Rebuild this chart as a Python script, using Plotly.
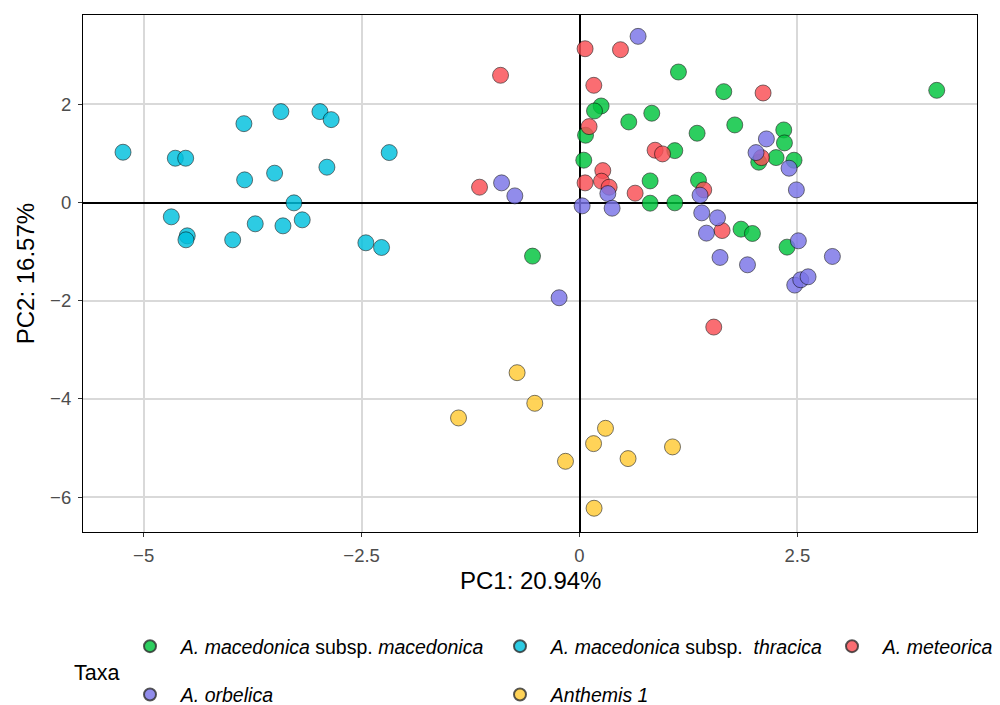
import plotly.graph_objects as go

# PCA scores per taxon (PC1, PC2)
mac_x = [1.135, 0.248, 0.172, 0.829, 0.565, 1.349, 0.069, 1.093, 0.049, 0.810,
         1.365, 0.810, 1.093, -0.539, 1.655, 4.098, 1.781, 2.343, 2.351, 2.255,
         2.056, 2.461, 1.853, 1.984, 2.381]
mac_y = [2.659, 1.967, 1.866, 1.819, 1.642, 1.412, 1.371, 1.058, 0.863, 0.441,
         0.455, -0.013, -0.006, -1.091, 2.259, 2.286, 1.581, 1.479, 1.215, 0.916,
         0.822, 0.862, -0.542, -0.630, -0.908]

thr_x = [-5.237, -4.637, -4.518, -3.850, -3.426, -2.978, -2.849, -2.183, -3.842, -3.498,
         -2.898, -3.276, -4.683, -4.500, -4.515, -3.979, -3.720, -3.402, -3.181, -2.451,
         -2.271]
thr_y = [1.025, 0.903, 0.903, 1.607, 1.852, 1.852, 1.689, 1.018, 0.462, 0.598,
         0.720, -0.006, -0.291, -0.678, -0.759, -0.759, -0.433, -0.474, -0.352, -0.820,
         -0.915]

met_x = [0.064, 0.470, -0.906, 0.164, 0.110, 0.867, 0.952, 0.267, 0.252, 0.064,
         0.340, 0.638, -1.147, 2.106, 2.087, 1.425, 1.636, 1.540]
met_y = [3.133, 3.113, 2.592, 2.388, 1.547, 1.066, 0.991, 0.651, 0.435, 0.401,
         0.313, 0.191, 0.313, 2.232, 0.916, 0.258, -0.570, -2.536]

orb_x = [0.672, -0.894, -0.742, 0.325, 0.030, 0.374, 1.383, 1.402, 1.456, 2.144,
         2.025, 2.404, 2.488, 1.583, 1.612, 1.927, 2.511, 2.901, -0.234, 2.469,
         2.538, 2.622]
orb_y = [3.385, 0.401, 0.136, 0.183, -0.067, -0.115, 0.150, -0.210, -0.623, 1.296,
         1.018, 0.699, 0.258, -0.311, -1.118, -1.268, -0.779, -1.098, -1.939, -1.681,
         -1.573, -1.512]

ant_x = [-0.716, -0.513, -1.388, 0.298, 0.161, 1.067, -0.161, 0.557, 0.167]
ant_y = [-3.465, -4.089, -4.387, -4.598, -4.910, -4.977, -5.270, -5.215, -6.226]

x_ticks = [-5, -2.5, 0, 2.5]
x_tick_text = ["\u22125", "\u22122.5", "0", "2.5"]
y_ticks = [-6, -4, -2, 0, 2]
y_tick_text = ["\u22126", "\u22124", "\u22122", "0", "2"]

FONT = "Liberation Sans, Arial"
PAD = "\u00a0\u00a0"  # extra gap between legend symbol and label

series = [
    ("<i>A. macedonica</i> subsp. <i>macedonica</i>", mac_x, mac_y, "rgb(0,196,61)", "legend"),
    ("<i>A. macedonica</i> subsp.  <i>thracica</i>", thr_x, thr_y, "rgb(0,192,222)", "legend2"),
    ("<i>A. meteorica</i>", met_x, met_y, "rgb(249,78,84)", "legend3"),
    ("<i>A. orbelica</i>", orb_x, orb_y, "rgb(122,116,231)", "legend"),
    ("<i>Anthemis 1</i>", ant_x, ant_y, "rgb(255,202,52)", "legend2"),
]

fig = go.Figure()
for i, (name, xs, ys, col, leg) in enumerate(series):
    fig.add_trace(go.Scatter(
        x=xs, y=ys, mode="markers", name=PAD + name, legend=leg,
        legendgroup=f"g{i}",
        marker=dict(size=16, color=col, opacity=0.82,
                    line=dict(color="rgba(0,0,0,0.8)", width=0.8)),
    ))

axis_common = dict(
    showgrid=True, gridcolor="#d9d9d9", gridwidth=1.6,
    zeroline=True, zerolinecolor="black", zerolinewidth=1.6,
    showline=True, linecolor="black", linewidth=1.2, mirror=True,
    ticks="outside", ticklen=4, tickcolor="#333333", tickwidth=1,
    ticklabelstandoff=3, automargin=False,
    tickfont=dict(family=FONT, size=18.5, color="#4d4d4d"),
)

fig.update_layout(
    width=1000, height=705,
    margin=dict(l=83, r=23, t=15, b=173, autoexpand=False),
    plot_bgcolor="white", paper_bgcolor="white",
    font=dict(family=FONT, size=19, color="black"),
    xaxis=dict(range=[-5.696, 4.56], tickvals=x_ticks, ticktext=x_tick_text, **axis_common),
    yaxis=dict(range=[-6.71, 3.82], tickvals=y_ticks, ticktext=y_tick_text, **axis_common),
)

leg_common = dict(orientation="v", yanchor="top", xanchor="left",
                  bgcolor="rgba(0,0,0,0)", tracegroupgap=20,
                  font=dict(family=FONT, size=19.5, color="black"),
                  itemsizing="constant")
# legend columns, positioned in plot-area fractions
leg_top = (532 - 627) / 517
fig.update_layout(
    legend=dict(x=(130 - 83) / 894, y=leg_top, **leg_common),
    legend2=dict(x=(500 - 83) / 894, y=leg_top, **leg_common),
    legend3=dict(x=(832 - 83) / 894, y=leg_top, **leg_common),
)

# axis titles
fig.add_annotation(text="PC1: 20.94%", xref="paper", yref="paper", x=0.5, y=-0.093,
                   showarrow=False, xanchor="center", yanchor="middle",
                   font=dict(family=FONT, size=24, color="black"))
fig.add_annotation(text="PC2: 16.57%", xref="paper", yref="paper", x=-0.064, y=0.5,
                   showarrow=False, xanchor="center", yanchor="middle", textangle=-90,
                   font=dict(family=FONT, size=24, color="black"))
fig.add_annotation(text="Taxa", xref="paper", yref="paper", x=-0.012, y=-0.273,
                   showarrow=False, xanchor="left", yanchor="middle",
                   font=dict(family=FONT, size=21.5, color="black"))

fig.write_html("out.html")
